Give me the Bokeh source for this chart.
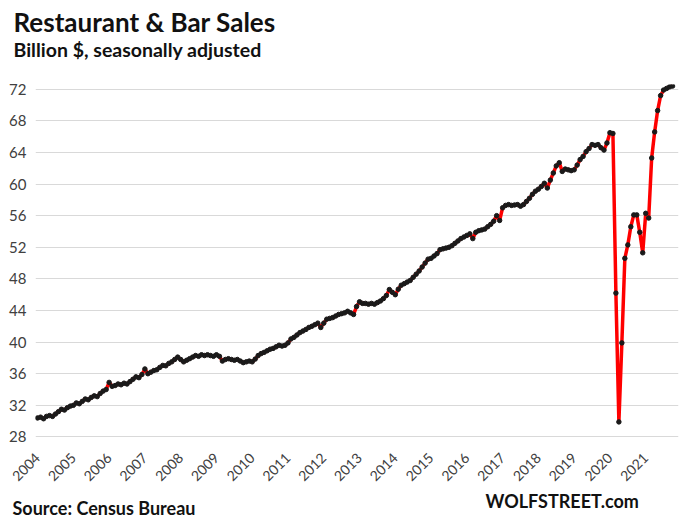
import math
from bokeh.plotting import figure
from bokeh.models import Range1d, FixedTicker, Title
from bokeh.embed import file_html
from bokeh.resources import INLINE

# Monthly restaurant & bar sales, billion $, seasonally adjusted (Jan 2004 - Oct 2021)
s2004 = [30.4, 30.5, 30.3, 30.6, 30.7, 30.6, 30.9, 31.2, 31.5, 31.4, 31.7, 31.9]
s2005 = [32.0, 32.3, 32.2, 32.5, 32.8, 32.7, 33.0, 33.2, 33.1, 33.5, 33.8, 34.0]
s2006 = [34.9, 34.4, 34.5, 34.7, 34.6, 34.8, 34.7, 35.0, 35.3, 35.6, 35.5, 35.9]
s2007 = [36.6, 36.0, 36.2, 36.4, 36.5, 36.8, 37.05, 37.0, 37.3, 37.5, 37.8, 38.1]
s2008 = [37.8, 37.5, 37.7, 37.9, 38.1, 38.3, 38.2, 38.4, 38.3, 38.4, 38.3, 38.2]
s2009 = [38.4, 38.2, 37.6, 37.8, 37.9, 37.8, 37.7, 37.8, 37.6, 37.4, 37.5, 37.6]
s2010 = [37.5, 37.85, 38.3, 38.55, 38.7, 38.9, 39.1, 39.2, 39.4, 39.6, 39.5, 39.6]
s2011 = [39.9, 40.4, 40.6, 40.9, 41.2, 41.4, 41.6, 41.85, 42.0, 42.2, 42.4, 41.85]
s2012 = [42.4, 42.9, 43.0, 43.1, 43.3, 43.5, 43.6, 43.7, 43.9, 43.7, 43.5, 44.5]
s2013 = [45.1, 44.9, 44.9, 44.8, 44.9, 44.8, 45.0, 45.2, 45.5, 45.9, 46.65, 46.3]
s2014 = [46.0, 46.7, 47.2, 47.4, 47.6, 47.8, 48.2, 48.6, 49.0, 49.5, 50.0, 50.5]
s2015 = [50.6, 50.9, 51.2, 51.7, 51.8, 51.9, 52.0, 52.2, 52.5, 52.8, 53.1, 53.3]
s2016 = [53.5, 53.7, 53.1, 53.9, 54.1, 54.2, 54.3, 54.6, 54.9, 55.3, 56.0, 55.4]
s2017 = [57.0, 57.3, 57.4, 57.3, 57.35, 57.4, 57.2, 57.4, 57.8, 58.2, 58.7, 59.1]
s2018 = [59.35, 59.7, 60.1, 59.5, 60.5, 61.4, 62.3, 62.7, 61.6, 61.9, 61.8, 61.7]
s2019 = [61.8, 62.4, 63.1, 63.5, 64.1, 64.5, 65.0, 64.9, 65.0, 64.6, 64.3, 65.2]
s2020 = [66.5, 66.4, 46.2, 29.9, 39.9, 50.6, 52.3, 54.6, 56.1, 56.1, 53.9, 51.3]
s2021 = [56.3, 55.7, 63.3, 66.6, 69.3, 71.2, 71.9, 72.1, 72.3, 72.4]

years = ["2004", "2005", "2006", "2007", "2008", "2009", "2010", "2011", "2012",
         "2013", "2014", "2015", "2016", "2017", "2018", "2019", "2020", "2021"]
y_ticks = [28, 32, 36, 40, 44, 48, 52, 56, 60, 64, 68, 72]

sales = (s2004 + s2005 + s2006 + s2007 + s2008 + s2009 + s2010 + s2011 + s2012
         + s2013 + s2014 + s2015 + s2016 + s2017 + s2018 + s2019 + s2020 + s2021)
month_idx = list(range(len(sales)))
year_ticks = [12 * i for i in range(len(years))]

FONT = "Lato"
W, H = 682, 526
LEFT, RIGHT, TOP, BOTTOM = 35, 4, 84, 88
TXT = "#111111"

p = figure(width=W, height=H, output_backend="svg", toolbar_location=None,
           x_range=Range1d(-0.7, 215.0), y_range=Range1d(27.8, 72.6),
           min_border_left=LEFT, min_border_right=RIGHT, min_border_top=TOP,
           min_border_bottom=BOTTOM)
p.outline_line_color = None
p.background_fill_color = "white"
p.border_fill_color = "white"

# titles (top)
p.add_layout(Title(text="Billion $, seasonally adjusted", align="left", offset=-22,
                   standoff=47, text_font=FONT, text_font_style="bold",
                   text_font_size="19.5px", text_color=TXT), "above")
p.add_layout(Title(text="Restaurant & Bar Sales", align="left", offset=-22,
                   standoff=-51, text_font=FONT, text_font_style="bold",
                   text_font_size="26px", text_color=TXT), "above")

# grid
p.xgrid.grid_line_color = None
p.ygrid.grid_line_color = "#d9d9d9"
p.ygrid.grid_line_width = 1
p.ygrid.ticker = FixedTicker(ticks=y_ticks)

# y axis
p.yaxis.ticker = FixedTicker(ticks=y_ticks)
p.yaxis.axis_line_color = None
p.yaxis.major_tick_line_color = None
p.yaxis.minor_tick_line_color = None
p.yaxis.major_label_text_font = FONT
p.yaxis.major_label_text_font_size = "15px"
p.yaxis.major_label_text_color = "#404040"
p.yaxis.major_label_standoff = 3

# x axis
p.xaxis.ticker = FixedTicker(ticks=year_ticks)
p.xaxis.major_label_overrides = {t: y for t, y in zip(year_ticks, years)}
p.xaxis.axis_line_color = None
p.xaxis.major_tick_line_color = None
p.xaxis.minor_tick_line_color = None
p.xaxis.major_label_orientation = math.pi / 4
p.xaxis.major_label_text_font = FONT
p.xaxis.major_label_text_font_size = "14px"
p.xaxis.major_label_text_color = "#404040"
p.xaxis.major_label_standoff = 11

# series
p.line(month_idx, sales, line_color="#ff0000", line_width=3.5)
p.scatter(month_idx, sales, size=4.5, fill_color="#1a1a1a", line_color="#1a1a1a")

# bottom texts
p.add_layout(Title(text="Source: Census Bureau", align="left", offset=-23,
                   standoff=12, text_font=FONT, text_font_style="bold",
                   text_font_size="18px", text_color=TXT), "below")
p.add_layout(Title(text="WOLFSTREET.com", align="left", offset=450,
                   vertical_align="top", standoff=-69, text_font=FONT,
                   text_font_style="bold", text_font_size="18px", text_color=TXT), "below")

open("out.html", "w").write(file_html(p, INLINE))
